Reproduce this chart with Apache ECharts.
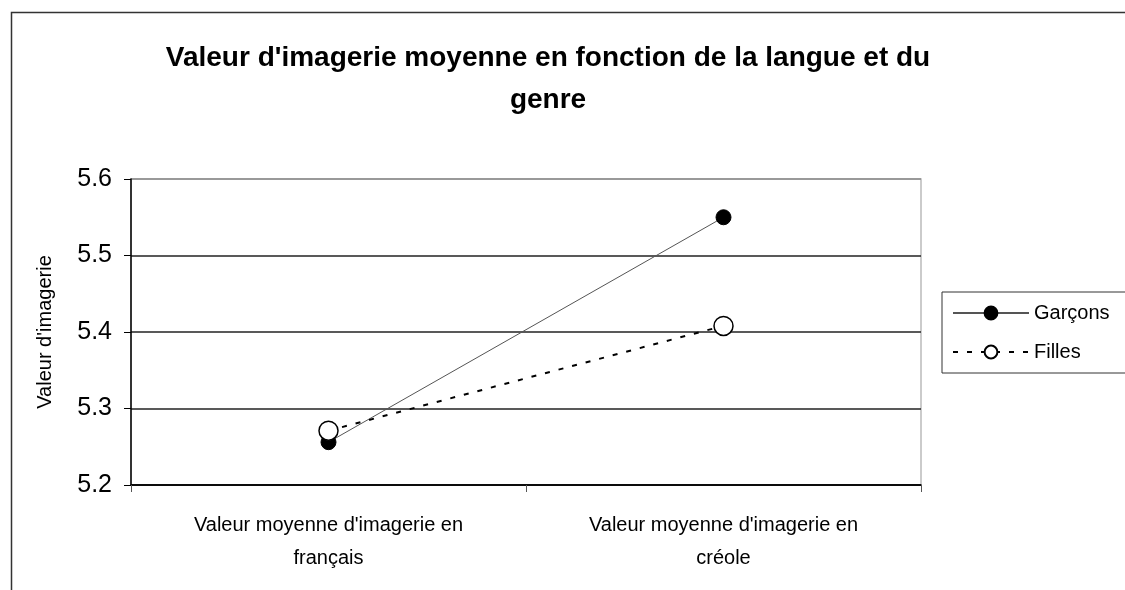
<!DOCTYPE html>
<html>
<head>
<meta charset="utf-8">
<script src="https://cdn.jsdelivr.net/npm/echarts@6/dist/echarts.min.js"></script>
<style>html,body{margin:0;padding:0;background:#fff}#c{width:1125px;height:590px}</style>
</head>
<body>
<div id="c"></div>
<script>
const titleText = "Valeur d'imagerie moyenne en fonction de la langue et du\ngenre";
const categories = ["Valeur moyenne d'imagerie en\nfrançais", "Valeur moyenne d'imagerie en\ncréole"];
const garcons = [5.256, 5.550];
const filles = [5.271, 5.408];
const yMin = 5.2, yMax = 5.6, yStep = 0.1;

const chart = echarts.init(document.getElementById('c'), null, {renderer: 'canvas'});
chart.setOption({
  backgroundColor: '#fff',
  animation: false,
  textStyle: {fontFamily: 'Liberation Sans, Arial, sans-serif'},
  graphic: [{
    type: 'rect', left: 9, top: 10, z: -1,
    shape: {width: 1125, height: 600},
    style: {fill: 'none', stroke: '#333', lineWidth: 1.5}
  }],
  title: {
    text: titleText,
    left: 543, top: 32, textAlign: 'center',
    textStyle: {fontSize: 28, fontWeight: 'bold', color: '#000', lineHeight: 42, fontFamily: 'Liberation Sans, Arial, sans-serif'}
  },
  legend: {
    left: 942, top: 292,
    orient: 'vertical',
    padding: [11, 40, 11, 10],
    borderColor: '#333', borderWidth: 1,
    itemWidth: 76, itemHeight: 16, itemGap: 19,
    textStyle: {fontSize: 20, color: '#000'},
    data: ['Garçons', 'Filles']
  },
  grid: {left: 131, right: 204, top: 179, bottom: 105, show: true, borderColor: '#bbb', borderWidth: 1.5, backgroundColor: '#fff'},
  xAxis: {
    type: 'category', data: categories, boundaryGap: true,
    axisLine: {lineStyle: {color: '#000', width: 1.5}},
    axisTick: {show: true, length: 7, lineStyle: {color: '#555'}},
    axisLabel: {fontSize: 20, color: '#000', margin: 24, lineHeight: 33, interval: 0},
    splitLine: {show: false}
  },
  yAxis: {
    type: 'value', min: yMin, max: yMax, interval: yStep,
    name: "Valeur d'imagerie", nameLocation: 'middle', nameGap: 76, nameRotate: 90,
    nameTextStyle: {fontSize: 20, color: '#000'},
    axisLine: {show: true, lineStyle: {color: '#000', width: 1.5}},
    axisTick: {show: true, length: 7, lineStyle: {color: '#000'}},
    axisLabel: {fontSize: 25, color: '#000', margin: 19, formatter: v => v.toFixed(1)},
    splitLine: {show: true, lineStyle: {color: ['#000', '#222', '#222', '#222', '#888'], width: 1.5}}
  },
  series: [
    {
      name: 'Garçons', type: 'line', data: garcons,
      symbol: 'circle', symbolSize: 15,
      lineStyle: {color: '#555', width: 1},
      itemStyle: {color: '#000', borderColor: '#000', borderWidth: 1},
      z: 3
    },
    {
      name: 'Filles', type: 'line', data: filles,
      symbol: 'circle', symbolSize: 19,
      lineStyle: {color: '#000', width: 2, type: [5, 9]},
      itemStyle: {color: '#fff', borderColor: '#000', borderWidth: 1.5},
      z: 4
    }
  ]
});
</script>
</body>
</html>
